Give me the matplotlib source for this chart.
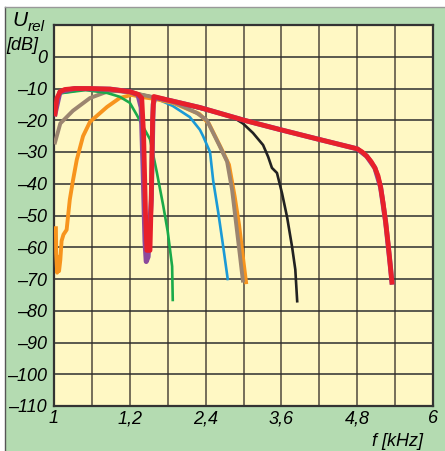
import matplotlib.pyplot as plt
from matplotlib.patches import Rectangle

# frequency in kHz, level in dB
red_f = [0.016, 0.047, 0.095, 0.17, 0.33, 0.57, 0.89, 1.20, 1.33, 1.39, 1.42, 1.45, 1.47, 1.52,
         1.54, 1.56, 1.58, 1.84, 2.31, 3.01, 3.59, 4.19, 4.80, 4.88, 4.95, 5.02, 5.08, 5.13, 5.17,
         5.21, 5.25, 5.29, 5.32, 5.35]
red_db = [-18, -13, -11, -10.3, -10, -10, -10.2, -11, -11.8, -13, -25, -50, -61, -61,
          -45, -20, -12.5, -13.8, -16, -20, -23, -26, -29, -30, -31.3, -33, -35, -37.5, -41,
          -46, -52, -59, -65, -71]

purple_f = [0.016, 0.095, 0.33, 0.89, 1.20, 1.33, 1.38, 1.41, 1.44, 1.46, 1.49, 1.54, 1.57, 1.60,
            1.84, 2.31, 3.01, 3.59, 4.19, 4.80, 4.95, 5.08, 5.17, 5.25, 5.32, 5.35]
purple_db = [-18, -11, -10, -10.2, -11, -12, -16, -35, -58, -64.5, -63, -45, -15, -12.8,
             -13.8, -16, -20, -23, -26, -29, -31.3, -35, -41, -52, -65, -71]

black_f = [0.016, 0.1, 0.5, 1.2, 1.6, 2.3, 2.58, 2.83, 2.99, 3.15, 3.31, 3.39, 3.45, 3.53, 3.61, 3.69, 3.77, 3.82, 3.85]
black_db = [-18, -11, -10, -11, -12.8, -16.3, -17.7, -19, -21, -24, -27.8, -31.5, -35, -36.6, -43, -50.5, -60, -67, -77]

blue_f = [0.0, 0.1, 0.5, 1.2, 1.6, 1.88, 2.15, 2.31, 2.36, 2.47, 2.52, 2.60, 2.68, 2.75]
blue_db = [-18, -11.5, -10.2, -11.2, -13, -15.5, -19, -23, -25, -30, -39, -49, -60, -70]

brown_f = [0.016, 0.1, 0.3, 0.57, 0.84, 1.0, 1.2, 1.52, 1.88, 2.26, 2.42, 2.52, 2.62, 2.74, 2.82, 2.88, 2.94, 2.99]
brown_db = [-27, -21, -17, -13, -11, -10.8, -11.2, -12.5, -14.2, -17.7, -20, -24, -28, -33, -42, -52, -62, -70.5]

orange_f = [0.03, 0.035, 0.05, 0.065, 0.08, 0.1, 0.12, 0.15, 0.2, 0.25, 0.3, 0.36, 0.46, 0.57, 0.84,
            1.04, 1.23, 1.36, 1.6, 1.88, 2.3, 2.45, 2.55, 2.65, 2.77, 2.86, 2.93, 2.99, 3.04]
orange_db = [-54, -62, -68, -63, -67.5, -64, -58, -56, -54.5, -45, -39, -32.5, -25, -20.5, -15.8,
             -13, -12, -12.6, -13.3, -14.5, -18, -21, -25, -29, -34, -44, -53, -63, -71]

green_f = [0.02, 0.1, 0.5, 0.84, 1.04, 1.2, 1.31, 1.41, 1.52, 1.63, 1.73, 1.8, 1.87, 1.88]
green_db = [-17, -11.5, -10.5, -11.4, -12.6, -14.5, -18.3, -22, -26, -36.6, -47, -55, -66, -76.6]

xtick_pos = [0, 1.2, 2.4, 3.6, 4.8, 6]
xtick_labels = ['1', '1,2', '2,4', '3,6', '4,8', '6']
ytick_pos = list(range(0, -111, -10))

plt.rcParams['font.family'] = ['Liberation Sans', 'DejaVu Sans']

fig = plt.figure(figsize=(4.45, 4.51), dpi=100)
fig.patch.set_facecolor('white')
# green panel behind the chart
fig.add_artist(Rectangle((5 / 445, 0), 440 / 445, 444 / 451, transform=fig.transFigure,
                         facecolor='#b4dbb1', edgecolor='none', zorder=-5))
fig.add_artist(plt.Line2D([5 / 445, 5 / 445], [0, 444 / 451], transform=fig.transFigure,
                          color='#555555', lw=1, zorder=-4))
fig.add_artist(plt.Line2D([5 / 445, 1], [444 / 451, 444 / 451], transform=fig.transFigure,
                          color='#999999', lw=1, zorder=-4))

ax = fig.add_axes([54 / 445, 45 / 451, 379 / 445, 381 / 451])
ax.set_zorder(1)
ax.set_facecolor('#fff8c4')

ax.plot(blue_f, blue_db, color='#1b9ad6', lw=1.9, zorder=3)
ax.plot(black_f, black_db, color='#222222', lw=1.9, zorder=3)
ax.plot(orange_f, orange_db, color='#f7941d', lw=2.8, zorder=4)
ax.plot(brown_f, brown_db, color='#9b8570', lw=2.8, zorder=5)
ax.plot(green_f, green_db, color='#1aaa4a', lw=1.9, zorder=6)
ax.plot(purple_f, purple_db, color='#8b4a9c', lw=3.6, zorder=7)
ax.plot(red_f, red_db, color='#e8202a', lw=3.4, zorder=8)

ax.set_xlim(0, 6)
ax.set_ylim(-110, 10)
ax.set_xticks(xtick_pos)
ax.set_xticklabels(xtick_labels)
ax.set_xticks([0.6 * i for i in range(11)], minor=True)
ax.set_yticks(ytick_pos)
ax.set_yticklabels([str(v).replace('-', '\u2013') for v in ytick_pos])
ax.set_yticks(range(-110, 11, 10), minor=True)
ax.tick_params(which='both', length=0)
ax.tick_params(axis='both', labelsize=13)
ax.tick_params(axis='y', pad=5)
ax.tick_params(axis='x', pad=3)
for lab in ax.get_xticklabels() + ax.get_yticklabels():
    lab.set_fontstyle('italic')
ax.grid(True, which='both', axis='x', color='#5e5748', lw=1.2)
ax.grid(True, which='both', axis='y', color='#2e2e2e', lw=1.1)
for sp in ax.spines.values():
    sp.set_color('#333333')
    sp.set_linewidth(1.6)
ax.set_axisbelow(True)

fig.text(12 / 445, 1 - 26 / 451, 'U', fontsize=15, style='italic')
fig.text(28 / 445, 1 - 31 / 451, 'rel', fontsize=11, style='italic')
fig.text(6 / 445, 1 - 50 / 451, '[dB]', fontsize=13, style='italic')
fig.text(372 / 445, 1 - 446 / 451, 'f [kHz]', fontsize=13, style='italic')

fig.savefig('out.png', dpi=100)
